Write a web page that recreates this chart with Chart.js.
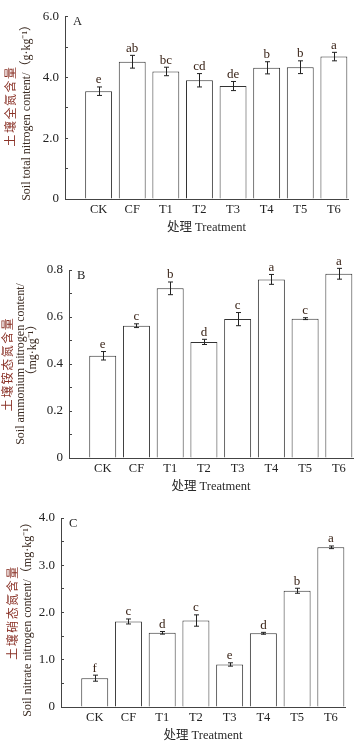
<!DOCTYPE html>
<html><head><meta charset="utf-8">
<script src="https://cdn.jsdelivr.net/npm/chart.js@4.4.1/dist/chart.umd.min.js"></script>
<style>
html,body{margin:0;padding:0;background:#fff;}
#wrap{position:relative;width:357px;height:745px;overflow:hidden;background:#fff;}
canvas{position:absolute;left:0;}
</style></head><body>
<div id="wrap">
<canvas id="cA" width="357" height="240" style="top:0px;width:357px;height:240px"></canvas>
<canvas id="cB" width="357" height="253" style="top:240px;width:357px;height:253px"></canvas>
<canvas id="cC" width="357" height="252" style="top:493px;width:357px;height:252px"></canvas>
</div>
<script>
// ---------- data ----------
const categories = ['CK','CF','T1','T2','T3','T4','T5','T6'];

const totalN        = [3.55, 4.52, 4.20, 3.91, 3.72, 4.32, 4.34, 4.69];
const totalNErr     = [0.14, 0.21, 0.14, 0.22, 0.15, 0.20, 0.21, 0.14];
const totalNLetters = ['e','ab','bc','cd','de','b','b','a'];
const totalNTicks   = ['0','','2.0','','4.0','','6.0'];

const ammoniumN        = [0.435, 0.563, 0.722, 0.494, 0.591, 0.760, 0.593, 0.784];
const ammoniumNErr     = [0.018, 0.008, 0.027, 0.011, 0.028, 0.021, 0.004, 0.023];
const ammoniumNLetters = ['e','c','b','d','c','a','c','a'];
const ammoniumNTicks   = ['0','','0.2','','0.4','','0.6','','0.8'];

const nitrateN        = [0.61, 1.81, 1.57, 1.83, 0.90, 1.56, 2.46, 3.38];
const nitrateNErr     = [0.064, 0.053, 0.028, 0.12, 0.035, 0.02, 0.053, 0.028];
const nitrateNLetters = ['f','c','d','c','e','d','b','a'];
const nitrateNTicks   = ['0','','1.0','','2.0','','3.0','','4.0'];

const xTitle = '处理 Treatment';

// ---------- styling / layout ----------
const SERIF = '"Liberation Serif","Noto Sans CJK SC",serif';
const CJK = '"Noto Sans CJK SC","Noto Sans CJK JP",sans-serif';
Chart.defaults.font.family = SERIF;
Chart.defaults.font.size = 12;
Chart.defaults.color = '#222';

const AXIS_COLOR = '#444';
const CN_COLOR = '#8b3328';
const EN_COLOR = '#3b2b22';
const LETTER_COLOR = '#3a2418';

function makePanel(id, L, values, errs, letters, tickLabels, titles, label) {
  const canvasH = document.getElementById(id).height;
  const xAxisH = 20;
  const deco = {
    id: 'deco' + id,
    afterDatasetsDraw(chart) {
      const ctx = chart.ctx;
      const ys = chart.scales.y;
      const meta = chart.getDatasetMeta(0);
      ctx.save();
      ctx.strokeStyle = '#222';
      ctx.lineWidth = 1;
      meta.data.forEach((bar, i) => {
        const x = Math.round(bar.x) + 0.5;
        const yt = ys.getPixelForValue(values[i] + errs[i]);
        const yb = ys.getPixelForValue(values[i] - errs[i]);
        ctx.beginPath();
        ctx.moveTo(x, yt); ctx.lineTo(x, yb);
        ctx.moveTo(x - 2.5, yt); ctx.lineTo(x + 2.5, yt);
        ctx.moveTo(x - 2.5, yb); ctx.lineTo(x + 2.5, yb);
        ctx.stroke();
        ctx.fillStyle = LETTER_COLOR;
        ctx.font = '13px ' + SERIF;
        ctx.textAlign = 'center';
        ctx.textBaseline = 'alphabetic';
        ctx.fillText(letters[i], bar.x, yt - 3.5);
      });
      ctx.restore();
    },
    afterDraw(chart) {
      const ctx = chart.ctx;
      const a = chart.chartArea;
      ctx.save();
      // panel label
      ctx.fillStyle = '#222';
      ctx.font = '12.5px ' + SERIF;
      ctx.textAlign = 'left';
      ctx.textBaseline = 'top';
      ctx.fillText(label, a.left + 8, a.top - 1);
      // x title
      ctx.font = '12.5px ' + SERIF;
      ctx.textAlign = 'center';
      ctx.textBaseline = 'middle';
      ctx.fillStyle = '#2a2a2a';
      ctx.fillText(xTitle, (a.left + a.right) / 2, a.bottom + 29);
      // y titles
      const cy = (a.top + a.bottom) / 2;
      titles.forEach(t => {
        ctx.save();
        ctx.translate(t.x, cy + (t.dy || 0));
        ctx.rotate(-Math.PI / 2);
        ctx.textAlign = 'center';
        ctx.textBaseline = 'middle';
        ctx.fillStyle = t.color;
        ctx.font = t.font;
        if ('letterSpacing' in ctx) ctx.letterSpacing = (t.ls || 0) + 'px';
        ctx.fillText(t.text, 0, 0);
        ctx.restore();
      });
      ctx.restore();
    }
  };
  return new Chart(document.getElementById(id), {
    type: 'bar',
    data: {
      datasets: [{
        data: values.map((v, i) => ({x: i, y: v})),
        backgroundColor: '#fff',
        borderColor: '#333',
        borderWidth: 1,
        categoryPercentage: 0.8,
        barPercentage: 1.0
      }]
    },
    options: {
      responsive: false,
      animation: false,
      layout: {padding: {left: 0, top: L.top, right: 357 - L.right, bottom: canvasH - L.bottom - xAxisH}},
      plugins: {legend: {display: false}, tooltip: {enabled: false}},
      scales: {
        x: {
          type: 'linear',
          offset: false,
          min: -1, max: 7.42,
          grid: {display: false, drawTicks: false, offset: false},
          border: {display: true, color: AXIS_COLOR, width: 1},
          afterBuildTicks: s => { s.ticks = categories.map((c, i) => ({value: i})); },
          afterFit: s => { s.height = xAxisH; },
          ticks: {
            autoSkip: false, maxRotation: 0, padding: 3,
            font: {size: 12.5}, color: '#222',
            callback: v => categories[v] !== undefined ? categories[v] : ''
          }
        },
        y: {
          min: 0, max: L.yMax,
          grid: {drawOnChartArea: false, drawTicks: true, tickLength: -3, color: AXIS_COLOR},
          border: {display: true, color: AXIS_COLOR, width: 1},
          afterFit: s => { s.width = L.left; },
          ticks: {
            stepSize: L.step, autoSkip: false, padding: 9,
            font: {size: 13}, color: '#222',
            callback: (v, i) => tickLabels[i]
          }
        }
      }
    },
    plugins: [deco]
  });
}

makePanel('cA', {left: 65, right: 348, top: 11, bottom: 199, yMax: 6, step: 1},
  totalN, totalNErr, totalNLetters, totalNTicks, [
    {text: '土壤全氮含量', x: 10, dy: -2, color: CN_COLOR, font: '12px ' + CJK, ls: 1.5},
    {text: 'Soil total nitrogen content/（g·kg⁻¹）', x: 27, dy: 2, color: EN_COLOR, font: '12px ' + SERIF}
  ], 'A');

makePanel('cB', {left: 69, right: 353, top: 30, bottom: 218, yMax: 0.8, step: 0.1},
  ammoniumN, ammoniumNErr, ammoniumNLetters, ammoniumNTicks, [
    {text: '土壤铵态氮含量', x: 7, color: CN_COLOR, font: '12px ' + CJK, ls: 1.5},
    {text: 'Soil ammonium nitrogen content/', x: 21, color: EN_COLOR, font: '12px ' + SERIF},
    {text: '（mg·kg⁻¹）', x: 33, dy: -14, color: EN_COLOR, font: '12px ' + SERIF}
  ], 'B');

makePanel('cC', {left: 61, right: 345, top: 25, bottom: 214, yMax: 4, step: 0.5},
  nitrateN, nitrateNErr, nitrateNLetters, nitrateNTicks, [
    {text: '土壤硝态氮含量', x: 12, color: CN_COLOR, font: '12px ' + CJK, ls: 1.5},
    {text: 'Soil nitrate nitrogen content/（mg·kg⁻¹）', x: 28, dy: 4, color: EN_COLOR, font: '12px ' + SERIF}
  ], 'C');
</script>
</body></html>
